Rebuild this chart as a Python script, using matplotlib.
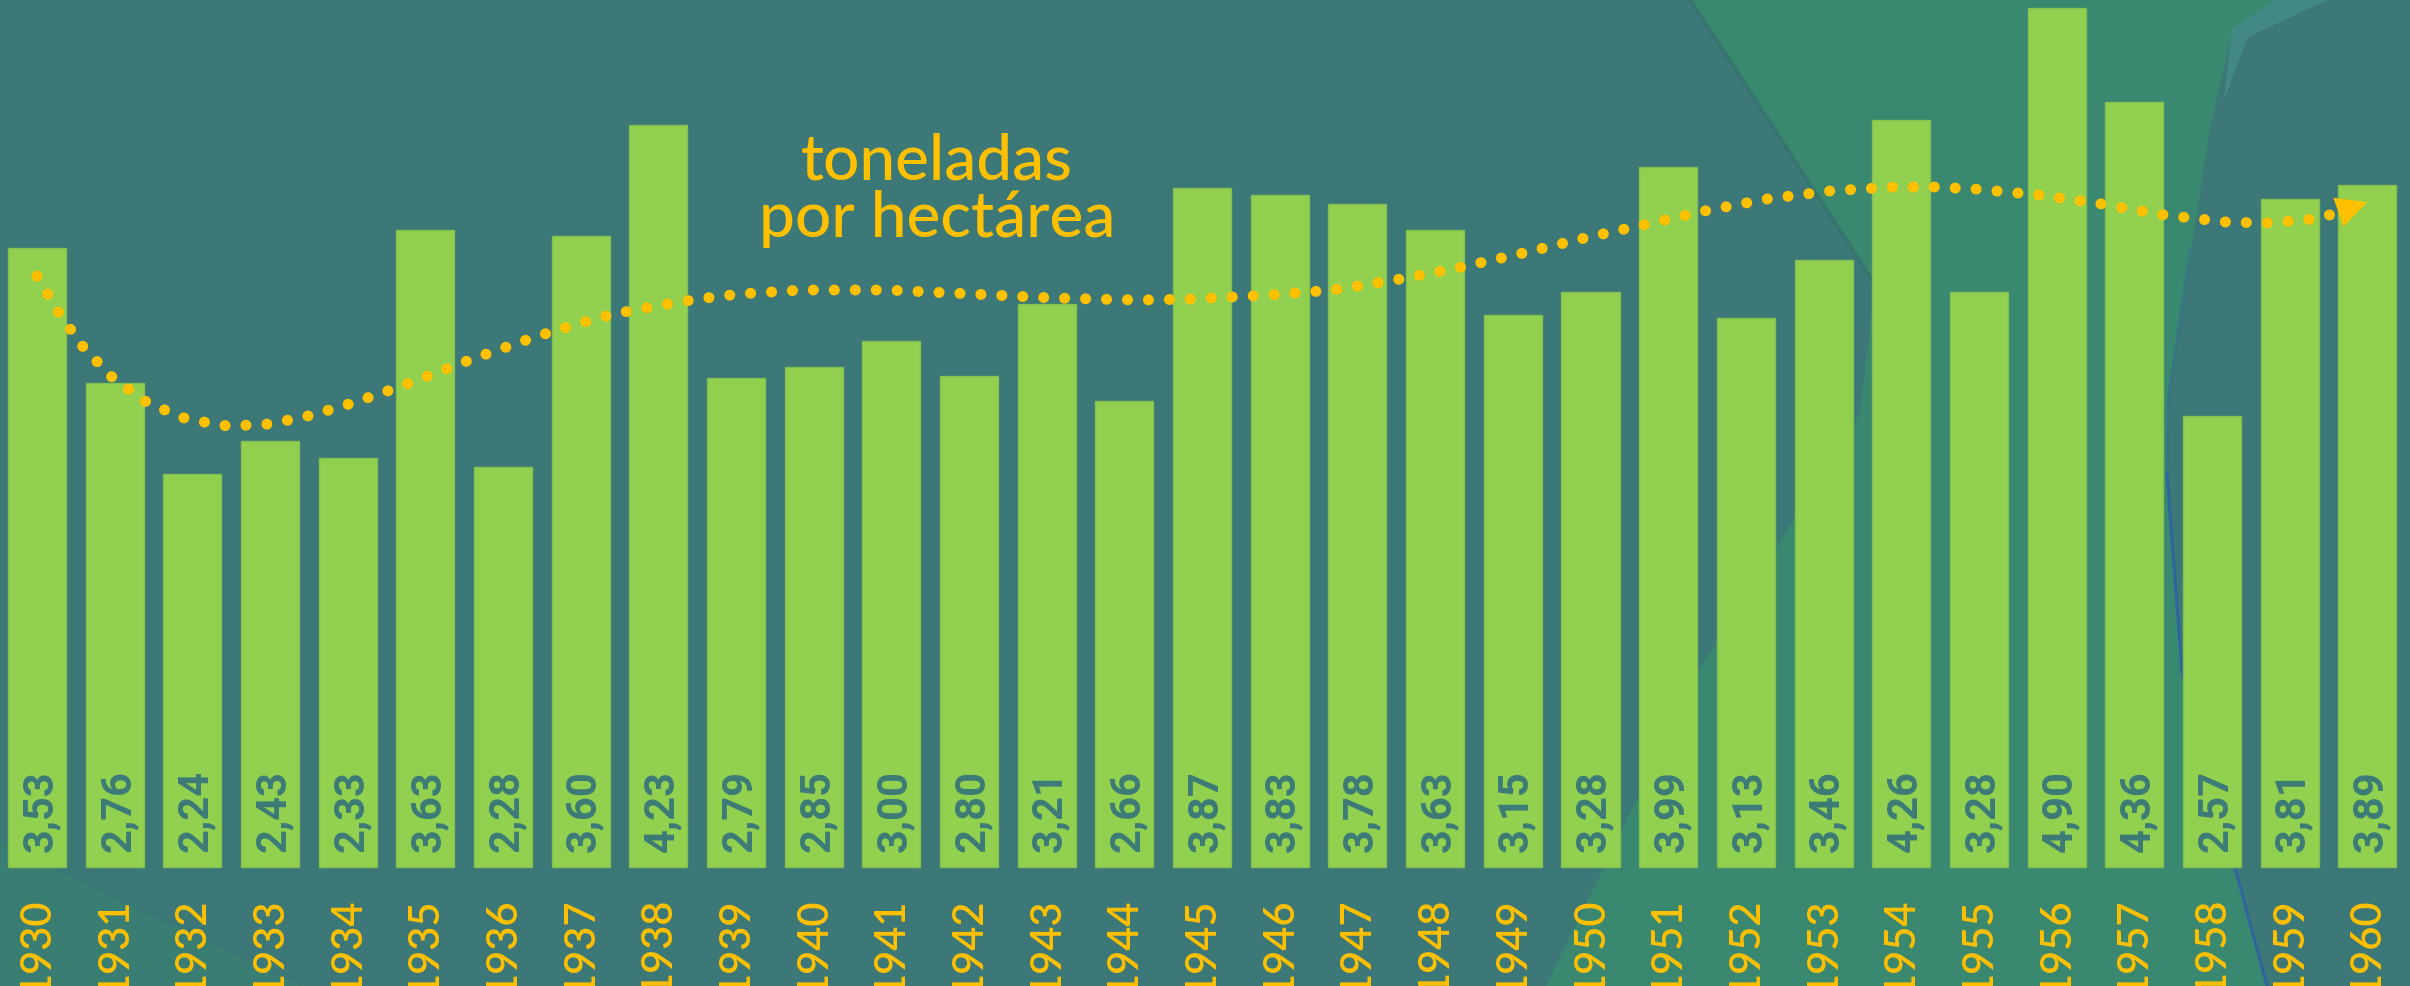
import matplotlib.pyplot as plt
from matplotlib.patches import Polygon

# datos
years = list(range(1930, 1961))
values = [3.53, 2.76, 2.24, 2.43, 2.33, 3.63, 2.28, 3.60, 4.23, 2.79,
          2.85, 3.00, 2.80, 3.21, 2.66, 3.87, 3.83, 3.78, 3.63, 3.15,
          3.28, 3.99, 3.13, 3.46, 4.26, 3.28, 4.90, 4.36, 2.57, 3.81, 3.89]
value_labels = [f'{v:.2f}'.replace('.', ',') for v in values]

# linea de tendencia (posicion en indice de año, valor)
trend_x = [0.0, 0.283, 0.605, 0.979, 1.429, 1.931, 2.459, 3.0, 3.541, 4.056,
           4.584, 5.098, 5.601, 6.373, 6.901, 7.429, 7.957, 8.498, 9.038, 9.849,
           10.403, 10.957, 11.51, 12.051, 12.579, 13.12, 13.66, 14.201, 14.845, 15.862,
           16.686, 17.484, 18.282, 19.081, 19.866, 20.664, 21.463, 22.261, 23.072, 23.87,
           24.424, 24.965, 25.789, 26.587, 27.398, 28.196, 28.737, 29.291, 29.561]
trend_y = [3.369, 3.158, 2.959, 2.788, 2.645, 2.554, 2.514, 2.526, 2.577, 2.645,
           2.725, 2.811, 2.896, 3.016, 3.09, 3.153, 3.198, 3.238, 3.267, 3.29,
           3.29, 3.29, 3.278, 3.267, 3.255, 3.244, 3.238, 3.233, 3.238, 3.261,
           3.29, 3.347, 3.415, 3.495, 3.58, 3.66, 3.74, 3.808, 3.854, 3.877,
           3.877, 3.865, 3.831, 3.78, 3.717, 3.677, 3.672, 3.694, 3.723]
arrow_tip = (30.0, 3.791)

label_lines = ['toneladas', 'por hectárea']

# colores
bg_color = '#3b7877'
shape_color = '#3a8870'
bar_color = '#92d050'
yellow = '#ffc000'
num_color = '#3d7b77'

W, H = 2410, 987
fig = plt.figure(figsize=(W / 100, H / 100), dpi=100)
fig.patch.set_facecolor(bg_color)

# fondo decorativo (pixeles)
bg = fig.add_axes([0, 0, 1, 1])
bg.set_xlim(0, W)
bg.set_ylim(H, 0)
bg.axis('off')
green_shape = [(1690, 0), (2277, 0), (2233, 30), (2210, 130), (2168, 400), (2167, 475),
               (2182, 673), (2267, 987), (1546, 987), (1700, 670), (1860, 415), (1875, 285)]
bg.add_patch(Polygon(green_shape, closed=True, facecolor=shape_color, edgecolor='none'))
bg.plot([1690, 1875], [0, 285], color='#2f6866', lw=3, alpha=0.4)
bg.add_patch(Polygon([(2232, 30), (2277, 0), (2330, 0), (2248, 38), (2224, 100)],
                     closed=True, facecolor='#4c9f98', edgecolor='none', alpha=0.45))
bg.plot([2190, 2168, 2167], [250, 400, 475], color='#2b5fa8', lw=1.5, alpha=0.35)
bg.plot([2167, 2182, 2267], [475, 673, 987], color='#2b5fa8', lw=2.2, alpha=0.8)
bg.add_patch(Polygon([(0, 845), (300, 987), (0, 987)], closed=True,
                     facecolor='#3a7d72', edgecolor='none'))

# grafico
ax = fig.add_axes([0, 0, 1, 1])
ax.patch.set_alpha(0)
x = list(range(len(years)))
ax.bar(x, values, width=0.747, color=bar_color, edgecolor='#84c050', linewidth=1)
ax.set_xlim(-0.476, 30.55)
ax.set_ylim(-0.678, 4.949)
ax.axis('off')

for i, (yr, lab) in enumerate(zip(years, value_labels)):
    ax.text(i + 0.04, 0.091, lab, rotation=90, ha='center', va='bottom',
            color=num_color, fontsize=30, fontweight='bold', family='Roboto')
    ax.text(i, -0.165, str(yr), rotation=90, ha='center', va='top',
            color=yellow, fontsize=30, fontweight='semibold', family='Lato')

ax.plot(trend_x, trend_y, color=yellow, lw=7.9, linestyle=(0, (0.01, 1.9)),
        dash_capstyle='round')
ax.annotate('', xy=arrow_tip, xytext=(trend_x[-1], trend_y[-1]),
            arrowprops=dict(arrowstyle='-|>,head_length=1.1,head_width=0.55',
                            color=yellow, lw=0, mutation_scale=20,
                            shrinkA=0, shrinkB=0))

fig.text(937 / W, 1 - 180 / H, label_lines[0], ha='center', va='baseline',
         color=yellow, fontsize=46, fontweight='medium', family='Lato')
fig.text(937 / W, 1 - 237 / H, label_lines[1], ha='center', va='baseline',
         color=yellow, fontsize=46, fontweight='medium', family='Lato')

fig.savefig('out.png', dpi=100, facecolor=fig.get_facecolor())
